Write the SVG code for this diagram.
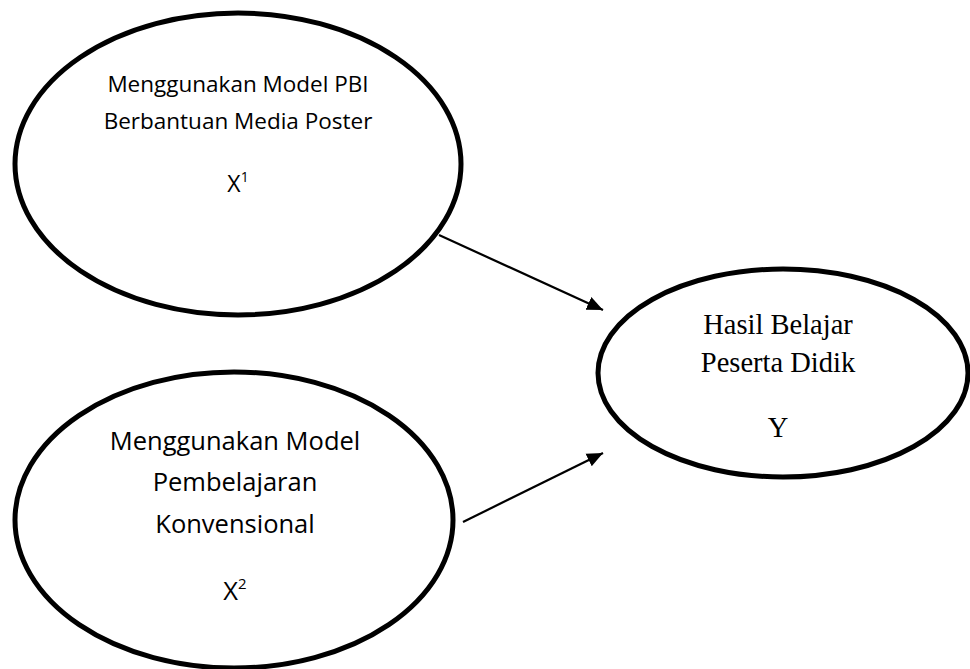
<svg xmlns="http://www.w3.org/2000/svg" width="970" height="669" viewBox="0 0 970 669">
<style>
.node{fill:#fff;stroke:#000;stroke-width:5}
.sans{font-family:"Open Sans","Liberation Sans",sans-serif;fill:#000;text-anchor:middle}
.serif{font-family:"Liberation Serif","DejaVu Serif",serif;fill:#000;text-anchor:middle}
.edge{stroke:#000;stroke-width:2.2;fill:none}
</style>
<defs>
<marker id="arrow" markerUnits="userSpaceOnUse" markerWidth="18" markerHeight="16" refX="16" refY="8" orient="auto">
<path d="M0,1 L16,8 L0,15 Z" fill="#000"/>
</marker>
</defs>
<rect width="970" height="669" fill="#fff"/>
<g id="connectors">
<line class="edge" x1="439" y1="235" x2="603" y2="310" marker-end="url(#arrow)"/>
<line class="edge" x1="463" y1="522" x2="603" y2="453" marker-end="url(#arrow)"/>
</g>
<g id="node-x1">
<ellipse class="node" cx="238" cy="164" rx="223" ry="151"/>
<text class="sans" x="238" y="92" font-size="22.5">Menggunakan Model PBI</text>
<text class="sans" x="238" y="129" font-size="22.5">Berbantuan Media Poster</text>
<text class="sans" x="238" y="192" font-size="23">X<tspan font-size="14" dy="-10">1</tspan></text>
</g>
<g id="node-x2">
<ellipse class="node" cx="234" cy="520" rx="219" ry="148"/>
<text class="sans" x="235" y="450" font-size="25.5">Menggunakan Model</text>
<text class="sans" x="235" y="491" font-size="25.5">Pembelajaran</text>
<text class="sans" x="235" y="533" font-size="25.5">Konvensional</text>
<text class="sans" x="235" y="600" font-size="25.5">X<tspan font-size="15" dy="-11">2</tspan></text>
</g>
<g id="node-y">
<ellipse class="node" cx="783" cy="373" rx="185" ry="104"/>
<text class="serif" x="778" y="334" font-size="28.5">Hasil Belajar</text>
<text class="serif" x="778" y="372" font-size="28.5">Peserta Didik</text>
<text class="serif" x="778" y="437" font-size="28.5">Y</text>
</g>
</svg>
